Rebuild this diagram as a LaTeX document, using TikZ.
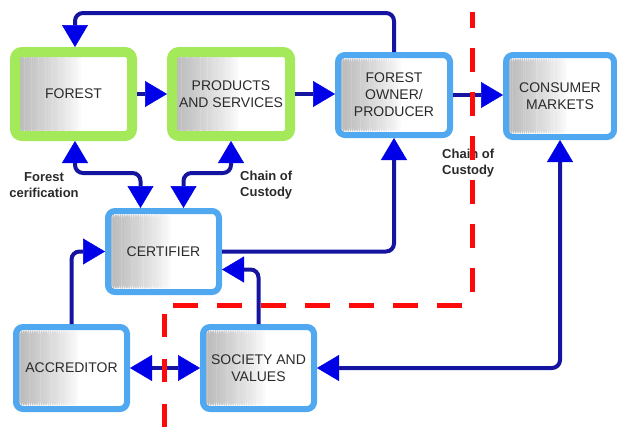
\documentclass[tikz,border=0pt]{standalone}
\usepackage{fontspec}
\setmainfont{Liberation Sans}
\usetikzlibrary{arrows.meta,calc}
\definecolor{boxgreen}{HTML}{A4E95A}
\definecolor{boxblue}{HTML}{4FA8F0}
\definecolor{linenavy}{HTML}{1414A0}
\definecolor{headblue}{HTML}{0000E8}
\definecolor{textgray}{HTML}{2A2A2A}
\definecolor{dashred}{HTML}{FF0A0A}
\tikzset{
  boxbase/.style={rounded corners=7pt, fill=white, text=textgray, align=center, inner sep=0pt,
    font=\fontsize{14}{17}\selectfont,
    path picture={
      \foreach \i [evaluate=\i as \c using {55*(1-\i/28)^0.8},
                   evaluate=\i as \a using {\i/50},
                   evaluate=\i as \b using {(\i+1.1)/50}] in {0,...,27}
        {\fill[gray!\c] ($(path picture bounding box.south west)!\a!(path picture bounding box.south east)$)
           rectangle ($(path picture bounding box.north west)!\b!(path picture bounding box.north east)$);}
    }},
  gbox/.style={boxbase, draw=boxgreen, line width=10pt, outer sep=5pt},
  bbox/.style={boxbase, draw=boxblue, line width=6pt, outer sep=3pt},
  conn/.style={draw=linenavy, line width=4pt, rounded corners=8pt,
    >={Triangle[length=22pt,width=26pt,color=headblue,line width=0.5pt]}},
  lbl/.style={font=\bfseries\fontsize{13}{16}\selectfont, text=textgray, inner sep=0pt},
  reddash/.style={draw=dashred, line width=5pt},
}
\begin{document}
\begin{tikzpicture}[x=1pt,y=-1pt]
\useasboundingbox (0,0) rectangle (617,429);
% boxes
\node[gbox, minimum width=117pt, minimum height=84pt] (forest) at (73.5,94) {FOREST};
\node[gbox, minimum width=118pt, minimum height=84pt] (products) at (231,94) {PRODUCTS\\AND SERVICES};
\node[bbox, minimum width=112pt, minimum height=80pt] (owner) at (394,95) {FOREST\\OWNER/\\PRODUCER};
\node[bbox, minimum width=108pt, minimum height=82pt] (consumer) at (560,96) {CONSUMER\\MARKETS};
\node[bbox, minimum width=111pt, minimum height=81pt] (certifier) at (163.5,251.5) {CERTIFIER};
\node[bbox, minimum width=111pt, minimum height=82pt] (accreditor) at (71.5,368) {ACCREDITOR};
\node[bbox, minimum width=111pt, minimum height=82pt] (society) at (258.5,368) {SOCIETY AND\\VALUES};
% labels
\node[lbl, align=center] (lforest) at (44,185) {Forest\\cerification};
\node[lbl, align=left, anchor=west] (lchain1) at (240,185) {Chain of\\Custody};
\node[lbl, align=left, anchor=west] (lchain2) at (442,163) {Chain of\\Custody};
% connectors
\draw[conn,->] (owner.north) -- (owner.north |- 0,13) -- ([xshift=1.5pt]forest.north |- 0,13) -- ([xshift=1.5pt]forest.north);
\draw[conn,->] (forest.east) -- (products.west);
\draw[conn,->] (products.east) -- (products.east -| owner.west);
\draw[conn,->] (owner.east) -- (owner.east -| consumer.west);
\draw[conn,<->] ([xshift=1.5pt]forest.south) -- ([xshift=1.5pt]forest.south |- 0,173) -| ([xshift=-23pt]certifier.north);
\draw[conn,<->] (products.south) -- (products.south |- 0,173) -| ([xshift=20pt]certifier.north);
\draw[conn,->] (certifier.east) -| (owner.south);
\draw[conn,->] (accreditor.north) |- (certifier.west);
\draw[conn,->] (society.north) |- ([yshift=-18pt]certifier.east);
\draw[conn,<->] (accreditor.east) -- (society.west);
\draw[conn,<->] (consumer.south) |- (society.east);
% red dashed boundary
\draw[reddash, dash pattern=on 24pt off 20pt, dash phase=8pt] (472,12) -- (472,294);
\draw[reddash, dash pattern=on 25pt off 19pt] (173,305) -- (465,305);
\draw[reddash, dash pattern=on 23pt off 22pt] (164,314) -- (164,429);
\end{tikzpicture}
\end{document}
